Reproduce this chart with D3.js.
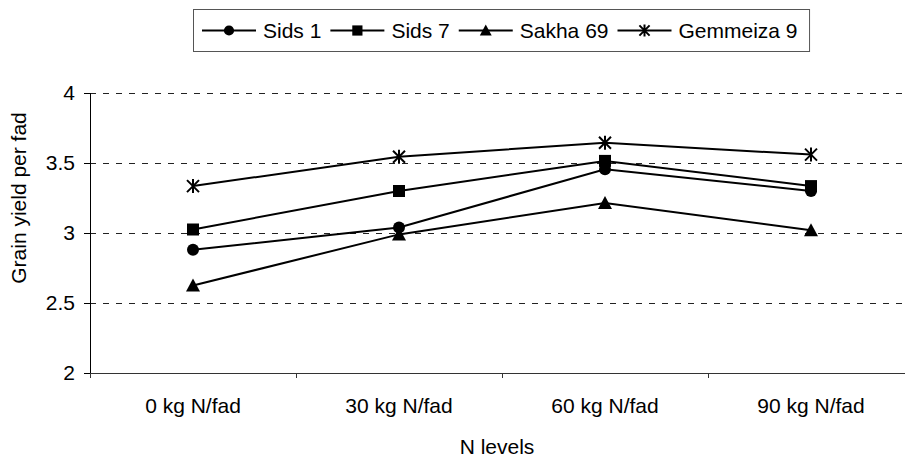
<!DOCTYPE html>
<html>
<head>
<meta charset="utf-8">
<script src="https://cdn.jsdelivr.net/npm/d3@7"></script>
<style>
  html, body { margin: 0; padding: 0; background: #fff; }
  svg { display: block; }
  text { font-family: Arial, "Liberation Sans", sans-serif; fill: #000; }
</style>
</head>
<body>
<svg id="chart" width="905" height="458"></svg>
<script>
const categories = ["0 kg N/fad", "30 kg N/fad", "60 kg N/fad", "90 kg N/fad"];
const sids1 = [2.88, 3.04, 3.455, 3.30];
const sids7 = [3.025, 3.30, 3.515, 3.335];
const sakha69 = [2.625, 2.99, 3.215, 3.02];
const gemmeiza9 = [3.335, 3.545, 3.645, 3.56];
const seriesNames = ["Sids 1", "Sids 7", "Sakha 69", "Gemmeiza 9"];
const seriesMarkers = ["circle", "square", "triangle", "star"];
const yTicks = [2, 2.5, 3, 3.5, 4];
const xTitle = "N levels";
const yTitle = "Grain yield per fad";

(function () {
const FS = 21;
const series = [sids1, sids7, sakha69, gemmeiza9].map((vals, i) => ({
  name: seriesNames[i], marker: seriesMarkers[i], values: vals
}));

const svg = d3.select("#chart");
const pLeft = 90, pRight = 914, pTop = 93, pBottom = 373;

const x = d3.scaleBand().domain(categories).range([pLeft, pRight]).paddingInner(0).paddingOuter(0);
const y = d3.scaleLinear().domain([2, 4]).range([pBottom, pTop]);
const cx = c => x(c) + x.bandwidth() / 2;

// gridlines
svg.append("g").selectAll("line").data(yTicks.filter(t => t > 2)).join("line")
  .attr("x1", pLeft).attr("x2", pRight)
  .attr("y1", d => y(d)).attr("y2", d => y(d))
  .attr("stroke", "#222").attr("stroke-width", 1)
  .attr("stroke-dasharray", "6,7")
  .attr("shape-rendering", "crispEdges");

// y axis
const yAxis = d3.axisLeft(y).tickValues(yTicks).tickSize(6).tickPadding(9)
  .tickFormat(d => String(d));
const gy = svg.append("g").attr("transform", `translate(${pLeft},0)`).call(yAxis);
gy.select(".domain").attr("stroke", "#000").attr("shape-rendering", "crispEdges");
gy.selectAll(".tick line").attr("stroke", "#000").attr("shape-rendering", "crispEdges");
gy.selectAll(".tick text").attr("font-size", FS).attr("fill", "#000")
  .attr("font-family", "Arial, 'Liberation Sans', sans-serif");

// x axis (labels centered, ticks between categories)
const xAxis = d3.axisBottom(x).tickSize(0).tickPadding(0);
const gx = svg.append("g").attr("transform", `translate(0,${pBottom})`).call(xAxis);
gx.select(".domain").remove();
gx.selectAll(".tick text").attr("font-size", FS).attr("fill", "#000")
  .attr("dy", null).attr("y", 40)
  .attr("font-family", "Arial, 'Liberation Sans', sans-serif");
svg.append("line").attr("x1", pLeft).attr("x2", pRight).attr("y1", pBottom).attr("y2", pBottom)
  .attr("stroke", "#333").attr("shape-rendering", "crispEdges");
const boundaries = categories.map(c => x(c)).concat([pRight]);
svg.append("g").selectAll("line").data(boundaries).join("line")
  .attr("x1", d => d).attr("x2", d => d).attr("y1", pBottom).attr("y2", pBottom + 5)
  .attr("stroke", "#333").attr("shape-rendering", "crispEdges");

// titles
svg.append("text").attr("x", 497).attr("y", 454).attr("text-anchor", "middle")
  .attr("font-size", FS).text(xTitle);
svg.append("text").attr("transform", "translate(26,198) rotate(-90)").attr("text-anchor", "middle")
  .attr("font-size", FS).text(yTitle);

function drawMarker(g, type, s) {
  if (type === "circle") {
    g.append("circle").attr("r", 6 * s).attr("fill", "#000");
  } else if (type === "square") {
    g.append("rect").attr("x", -6 * s).attr("y", -6 * s).attr("width", 12 * s).attr("height", 12 * s).attr("fill", "#000");
  } else if (type === "triangle") {
    g.append("path").attr("d", `M0,${-7 * s}L${7 * s},${6 * s}L${-7 * s},${6 * s}Z`).attr("fill", "#000");
  } else {
    const a = 6 * s, v = 7 * s;
    g.append("path").attr("d", `M0,${-v}L0,${v}M${-a},${-a}L${a},${a}M${-a},${a}L${a},${-a}`)
      .attr("stroke", "#000").attr("stroke-width", 2).attr("fill", "none");
  }
}

const line = d3.line().x((d, i) => cx(categories[i])).y(d => y(d));
series.forEach(s => {
  svg.append("path").datum(s.values).attr("d", line)
    .attr("fill", "none").attr("stroke", "#000").attr("stroke-width", 2);
});
series.forEach(s => {
  s.values.forEach((v, i) => {
    const g = svg.append("g").attr("transform", `translate(${cx(categories[i])},${y(v)})`);
    drawMarker(g, s.marker, 1);
  });
});

// legend
const leg = svg.append("g");
const box = leg.append("rect").attr("x", 193.5).attr("y", 9.5).attr("height", 42)
  .attr("fill", "#fff").attr("stroke", "#555").attr("stroke-width", 1);
let lx = 202;
const ly = 30.5;
series.forEach((s, i) => {
  leg.append("line").attr("x1", lx).attr("x2", lx + 54).attr("y1", ly).attr("y2", ly)
    .attr("stroke", "#000").attr("stroke-width", 2);
  const mg = leg.append("g").attr("transform", `translate(${lx + 27},${ly})`);
  drawMarker(mg, s.marker, 0.85);
  const t = leg.append("text").attr("x", lx + 61).attr("y", ly + 7.5).attr("font-size", FS).text(s.name);
  const w = t.node().getComputedTextLength();
  lx = lx + 61 + w + (i === series.length - 1 ? 12 : 9);
});
box.attr("width", lx - 193.5);
})();
</script>
</body>
</html>
